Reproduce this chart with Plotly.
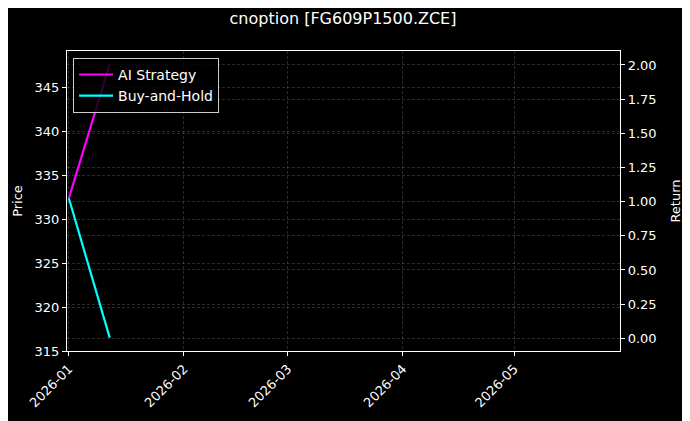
import plotly.graph_objects as go

# chart values
dates = ["2026-01-01", "2026-01-12"]
ai_strategy = [1.025, 2.005]
buy_and_hold = [1.025, 0.005]
price = []  # price series is not visible in the reference

title = "cnoption [FG609P1500.ZCE]"
x_ticks = ["2026-01-01", "2026-02-01", "2026-03-01", "2026-04-01", "2026-05-01"]
x_tick_labels = ["2026-01", "2026-02", "2026-03", "2026-04", "2026-05"]
price_ticks = [315, 320, 325, 330, 335, 340, 345]
return_ticks = [0.0, 0.25, 0.5, 0.75, 1.0, 1.25, 1.5, 1.75, 2.0]

font = "DejaVu Sans"
grid_color = "rgba(255,255,255,0.16)"

fig = go.Figure()
fig.add_trace(go.Scatter(x=price, y=price, name="Price", yaxis="y",
                         showlegend=False, mode="lines"))
fig.add_trace(go.Scatter(x=dates, y=ai_strategy, name="AI Strategy", yaxis="y2",
                         mode="lines", line=dict(color="#ff00ff", width=2.2)))
fig.add_trace(go.Scatter(x=dates, y=buy_and_hold, name="Buy-and-Hold", yaxis="y2",
                         mode="lines", line=dict(color="#00ffff", width=2.2)))

axis_common = dict(
    showline=True, linecolor="white", linewidth=1.2, automargin=False,
    ticks="outside", ticklen=4, tickcolor="white", tickwidth=1,
    showgrid=True, gridcolor=grid_color, griddash="3px,2px", gridwidth=0.6,
    zeroline=False, tickfont=dict(family=font, size=13, color="white"),
)

# the page body adds an 8px offset, so margins are shifted to compensate
fig.update_layout(
    width=690, height=421,
    margin=dict(l=59, r=78, t=43, b=78),
    paper_bgcolor="black", plot_bgcolor="black",
    font=dict(family=font, size=13, color="white"),
    title=dict(text=title, x=(343 - 8) / 690, xref="container", xanchor="center",
               y=1 - 10 / 421, yanchor="middle", font=dict(family=font, size=16, color="white")),
    xaxis=dict(
        axis_common, type="date", range=["2025-12-31 12:00", "2026-05-29 12:00"],
        tickvals=x_ticks, ticktext=x_tick_labels, tickangle=-45, mirror=True,
    ),
    yaxis=dict(
        axis_common, range=[315, 349.1], tickvals=price_ticks,
        title=dict(text="Price", font=dict(family=font, size=13, color="white"), standoff=8),
    ),
    yaxis2=dict(
        axis_common, range=[-0.093, 2.102], tickvals=return_ticks,
        tickformat=".2f", overlaying="y", side="right",
        title=dict(text="Return", font=dict(family=font, size=13, color="white"), standoff=15),
    ),
    legend=dict(
        x=0.011, y=0.977, xanchor="left", yanchor="top",
        bgcolor="rgba(0,0,0,0.8)", bordercolor="#cccccc", borderwidth=1,
        font=dict(family=font, size=14, color="white"),
        tracegroupgap=0, itemwidth=34,
    ),
)

fig.write_html("out.html")
